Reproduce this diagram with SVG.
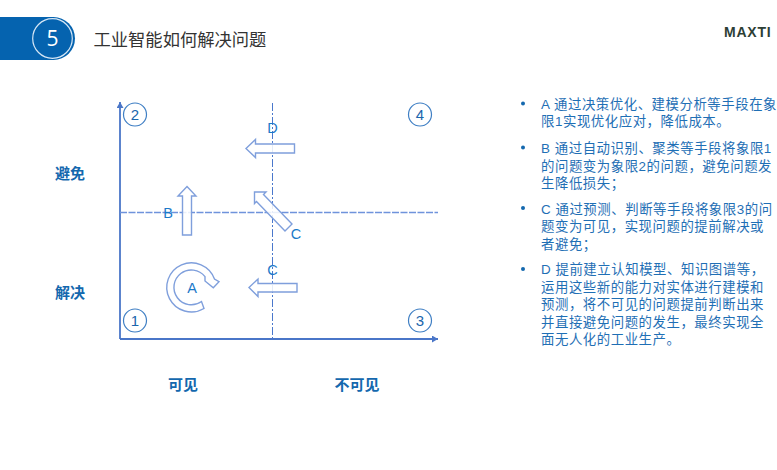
<svg xmlns="http://www.w3.org/2000/svg" width="777" height="470" viewBox="0 0 777 470">
<style>
text{font-family:"Liberation Sans","Noto Sans CJK SC",sans-serif}
.cn{font-family:"Noto Sans CJK SC",sans-serif}
.num{font-size:15px;fill:#1a66ad;text-anchor:middle}
.q{fill:#fff;stroke:#3f7fc4;stroke-width:1.2}
.arr{fill:#fff;fill-opacity:.85;stroke:#7f9fdc;stroke-width:1.4}
.let{font-size:14.500px;fill:#1b79c9;text-anchor:middle}
.ax{font-size:15px;font-weight:700;fill:#1468ae;text-anchor:middle}
.body{font-size:13.400px;fill:#1f6fb5;letter-spacing:.55px}
.axis{stroke:#4a76c8;stroke-width:1.8;fill:none}
.dashh{stroke:#6f93dc;stroke-width:1.300;fill:none;stroke-dasharray:7 1.500}
.dashv{stroke:#4a78cc;stroke-width:1;fill:none;stroke-dasharray:8 2 2 2}
.bul{fill:#1468ae}
</style>
<defs>
<marker id="ah" markerUnits="userSpaceOnUse" markerWidth="7" markerHeight="7" refX="6" refY="3.5" orient="auto"><path d="M0 0L6 3.5L0 7Z" fill="#4a76c8"/></marker>
</defs>
<g id="header">
<path d="M0 17H53.500A21.500 21.500 0 0 1 53.500 60H0Z" fill="#0563af"/>
<circle cx="52.500" cy="38.500" r="19.800" fill="none" stroke="#d5e6f5" stroke-width="1.200"/>
<text x="52.500" y="46" font-size="21" fill="#fff" text-anchor="middle" style="font-family:'Open Sans',sans-serif">5</text>
<text x="93.500" y="45.500" class="cn" font-size="17.300" fill="#333">工业智能如何解决问题</text>
</g>
<g id="logo"><text x="724" y="37" font-size="14" font-weight="700" fill="#2c3e35" letter-spacing=".8">MAXTI</text></g>
<g id="connectors">
<path class="axis" d="M120 339V102" marker-end="url(#ah)"/>
<path class="axis" d="M120 339H438" marker-end="url(#ah)"/>
<path class="dashh" d="M120 212.500H438"/>
<path class="dashv" d="M272.500 103V339"/>
</g>
<g id="quadrant-2"><circle class="q" cx="135" cy="114.500" r="11.500"/><text class="num" x="135" y="119.700">2</text></g>
<g id="quadrant-4"><circle class="q" cx="420" cy="114.500" r="11.500"/><text class="num" x="420" y="119.700">4</text></g>
<g id="quadrant-1"><circle class="q" cx="135" cy="320.500" r="11.500"/><text class="num" x="135" y="325.700">1</text></g>
<g id="quadrant-3"><circle class="q" cx="420" cy="320.500" r="11.500"/><text class="num" x="420" y="325.700">3</text></g>
<g id="arrow-d"><polygon class="arr" points="246,148.500 255.500,139.500 255.500,144 294.500,144 294.500,153 255.500,153 255.500,157.500"/><text class="let" x="272.500" y="133">D</text></g>
<g id="arrow-b"><polygon class="arr" points="187,186.500 196,196 191.500,196 191.500,235 182.500,235 182.500,196 178,196"/><text class="let" x="168" y="218">B</text></g>
<g id="arrow-c-diagonal"><polygon class="arr" points="254.500,192 266,192 263.500,194.500 292,224 285,231 256.500,201.500 254.500,203.500"/><text class="let" x="296" y="239">C</text></g>
<g id="arrow-c"><polygon class="arr" points="249,287.500 258,279 258,283.500 297,283.500 297,292 258,292 258,296.500"/><text class="let" x="272.500" y="275">C</text></g>
<g id="arrow-a"><path class="arr" d="M204 308.500A24.600 24.600 0 1 1 214.500 279L219 281.700L213.300 287.700L205 281L205 276.600A17.400 17.400 0 1 0 201.500 301.500Z"/><text class="let" x="192" y="293">A</text></g>
<g id="axis-labels">
<text class="ax cn" x="70" y="179">避免</text>
<text class="ax cn" x="70" y="298">解决</text>
<text class="ax cn" x="183" y="390">可见</text>
<text class="ax cn" x="357" y="390">不可见</text>
</g>
<g id="notes">
<circle class="bul" cx="523" cy="103.500" r="2"/><circle class="bul" cx="523" cy="147.500" r="2"/><circle class="bul" cx="523" cy="208" r="2"/><circle class="bul" cx="523" cy="269" r="2"/>
<text class="body" x="541" y="109">A 通过决策优化、建模分析等手段在象</text>
<text class="body" x="541" y="126">限1实现优化应对，降低成本。</text>
<text class="body" x="541" y="153">B 通过自动识别、聚类等手段将象限1</text>
<text class="body" x="541" y="171">的问题变为象限2的问题，避免问题发</text>
<text class="body" x="541" y="188">生降低损失；</text>
<text class="body" x="541" y="214">C 通过预测、判断等手段将象限3的问</text>
<text class="body" x="541" y="231">题变为可见，实现问题的提前解决或</text>
<text class="body" x="541" y="249">者避免；</text>
<text class="body" x="541" y="274">D 提前建立认知模型、知识图谱等，</text>
<text class="body" x="541" y="292">运用这些新的能力对实体进行建模和</text>
<text class="body" x="541" y="309">预测，将不可见的问题提前判断出来</text>
<text class="body" x="541" y="327">并直接避免问题的发生，最终实现全</text>
<text class="body" x="541" y="344">面无人化的工业生产。</text>
</g>
</svg>
